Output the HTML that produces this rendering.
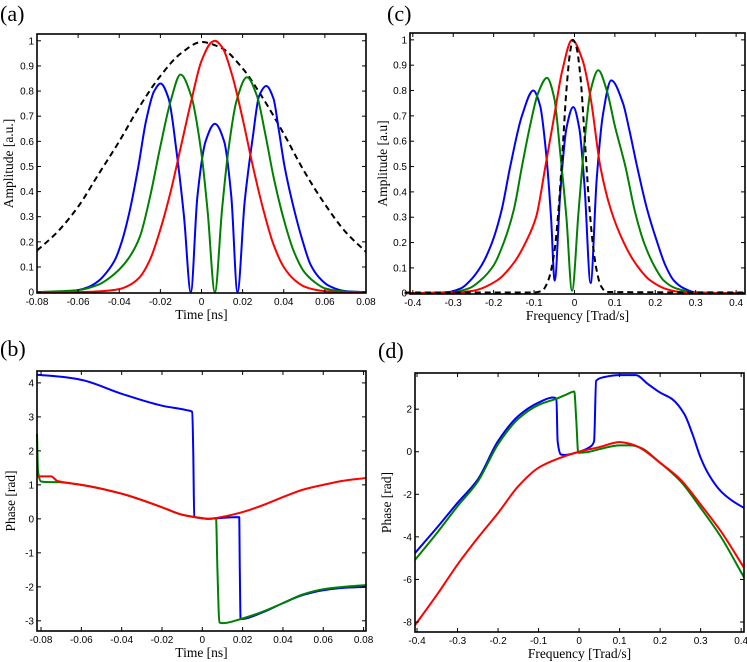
<!DOCTYPE html>
<html><head><meta charset="utf-8"><style>
html,body{margin:0;padding:0;background:#fff;}
svg{display:block;}
.tk{font-family:"Liberation Sans",sans-serif;font-size:10px;fill:#000;}
.lb{font-family:"Liberation Serif",serif;font-size:13.5px;fill:#000;}
.pl{font-family:"Liberation Serif",serif;font-size:22px;fill:#000;}
</style></head><body>
<svg id="fig" width="747" height="662" viewBox="0 0 747 662" xmlns="http://www.w3.org/2000/svg"></svg>
<script>
// ---- Panel (a): amplitude vs time ----
const aTicksX=[-0.08,-0.06,-0.04,-0.02,0,0.02,0.04,0.06,0.08];
const aTickLabelsX=["-0.08","-0.06","-0.04","-0.02","0","0.02","0.04","0.06","0.08"];
const aTicksY=[0,0.1,0.2,0.3,0.4,0.5,0.6,0.7,0.8,0.9,1];
const aTickLabelsY=["0","0.1","0.2","0.3","0.4","0.5","0.6","0.7","0.8","0.9","1"];
const aDashX=[-0.08,-0.07,-0.06,-0.05,-0.04,-0.03,-0.02,-0.01,0,0.01,0.02,0.03,0.04,0.05,0.06,0.07,0.08];
const aDashY=[0.165,0.24,0.34,0.47,0.6,0.74,0.86,0.95,0.995,0.97,0.89,0.77,0.63,0.48,0.35,0.24,0.16];
const aBlueX=[-0.08,-0.065,-0.06,-0.055,-0.05,-0.046,-0.042,-0.0388,-0.035,-0.0307,-0.027,-0.023,-0.0199,-0.016,-0.012,-0.0085,-0.0052,-0.002,0.002,0.0065,0.011,0.0145,0.0175,0.021,0.025,0.028,0.0315,0.035,0.0375,0.0404,0.045,0.0493,0.053,0.057,0.062,0.07,0.08];
const aBlueY=[0,0.003,0.008,0.02,0.045,0.08,0.13,0.2,0.32,0.5,0.68,0.8,0.83,0.77,0.55,0.3,0,0.38,0.6,0.67,0.6,0.38,0,0.36,0.62,0.78,0.82,0.77,0.65,0.5,0.33,0.2,0.11,0.06,0.025,0.004,0];
const aGreenX=[-0.08,-0.06,-0.05,-0.045,-0.04,-0.035,-0.03,-0.025,-0.02,-0.015,-0.0102,-0.005,0,0.003,0.0065,0.01,0.013,0.017,0.0221,0.027,0.031,0.035,0.04,0.045,0.05,0.055,0.06,0.07,0.08];
const aGreenY=[0,0.008,0.03,0.055,0.09,0.14,0.22,0.38,0.58,0.76,0.866,0.78,0.55,0.32,0,0.33,0.56,0.76,0.855,0.78,0.63,0.46,0.29,0.16,0.08,0.04,0.015,0.002,0];
const aRedX=[-0.08,-0.06,-0.05,-0.04,-0.035,-0.03,-0.025,-0.02,-0.015,-0.01,-0.005,0,0.005,0.0065,0.01,0.015,0.02,0.025,0.03,0.035,0.04,0.045,0.05,0.055,0.06,0.07,0.08];
const aRedY=[0,0,0.003,0.012,0.028,0.06,0.13,0.25,0.4,0.58,0.76,0.92,0.995,1,0.975,0.86,0.69,0.5,0.33,0.19,0.1,0.05,0.022,0.01,0.004,0,0];

// ---- Panel (c): amplitude vs frequency ----
const cTicksX=[-0.4,-0.3,-0.2,-0.1,0,0.1,0.2,0.3,0.4];
const cTickLabelsX=["-0.4","-0.3","-0.2","-0.1","0","0.1","0.2","0.3","0.4"];
const cTicksY=[0,0.1,0.2,0.3,0.4,0.5,0.6,0.7,0.8,0.9,1];
const cTickLabelsY=["0","0.1","0.2","0.3","0.4","0.5","0.6","0.7","0.8","0.9","1"];
const cDashX=[-0.42,-0.1,-0.08,-0.065,-0.05,-0.04,-0.03,-0.02,-0.01,-0.004,0.005,0.015,0.025,0.035,0.045,0.055,0.065,0.08,0.42];
const cDashY=[0.003,0.003,0.01,0.05,0.16,0.32,0.55,0.8,0.96,1.0,0.97,0.85,0.62,0.38,0.2,0.09,0.03,0.005,0.003];
const cBlueX=[-0.42,-0.32,-0.28,-0.258,-0.23,-0.204,-0.18,-0.159,-0.13,-0.102,-0.085,-0.07,-0.058,-0.049,-0.035,-0.02,-0.003,0.012,0.025,0.04,0.055,0.07,0.091,0.12,0.135,0.155,0.18,0.205,0.225,0.246,0.27,0.3,0.42];
const cBlueY=[0,0.003,0.02,0.05,0.11,0.2,0.33,0.5,0.7,0.8,0.74,0.55,0.3,0.05,0.4,0.65,0.735,0.65,0.42,0.04,0.45,0.7,0.84,0.75,0.65,0.5,0.33,0.2,0.11,0.05,0.02,0.003,0];
const cGreenX=[-0.42,-0.3,-0.26,-0.233,-0.2,-0.175,-0.15,-0.13,-0.11,-0.09,-0.068,-0.05,-0.035,-0.02,-0.006,0.01,0.025,0.04,0.059,0.08,0.1,0.126,0.15,0.172,0.2,0.221,0.25,0.3,0.42];
const cGreenY=[0,0.005,0.02,0.05,0.11,0.2,0.33,0.5,0.66,0.79,0.85,0.77,0.55,0.3,0.01,0.32,0.6,0.8,0.88,0.8,0.66,0.5,0.32,0.2,0.1,0.05,0.02,0.003,0];
const cRedX=[-0.42,-0.3,-0.25,-0.192,-0.15,-0.121,-0.095,-0.072,-0.05,-0.03,-0.006,0.02,0.04,0.064,0.09,0.122,0.15,0.188,0.23,0.27,0.3,0.42];
const cRedY=[0,0.002,0.01,0.05,0.12,0.2,0.3,0.5,0.7,0.88,1.0,0.92,0.77,0.5,0.33,0.2,0.12,0.05,0.015,0.003,0,0];

// ---- Panel (b): phase vs time ----
const bTicksX=[-0.08,-0.06,-0.04,-0.02,0,0.02,0.04,0.06,0.08];
const bTickLabelsX=["-0.08","-0.06","-0.04","-0.02","0","0.02","0.04","0.06","0.08"];
const bTicksY=[-3,-2,-1,0,1,2,3,4];
const bTickLabelsY=["-3","-2","-1","0","1","2","3","4"];
const bBlueX=[-0.082,-0.07,-0.06,-0.04,-0.02,-0.008,-0.005,-0.0045,-0.004,-0.002,0.003,0.01,0.0183,0.0186,0.019,0.03,0.04,0.05,0.06,0.07,0.081];
const bBlueY=[4.24,4.18,4.09,3.68,3.33,3.2,3.15,2.0,0.07,0.03,0,0.03,0.05,-1.5,-2.95,-2.75,-2.48,-2.24,-2.1,-2.03,-2.0];
const bGreenX=[-0.082,-0.0815,-0.08,-0.076,-0.072,-0.06,-0.04,-0.02,-0.01,0,0.003,0.0068,0.0075,0.0085,0.01,0.02,0.03,0.04,0.05,0.06,0.07,0.081];
const bGreenY=[2.5,1.4,1.1,1.08,1.08,1.0,0.74,0.34,0.12,0.02,0,0.02,-1.5,-3.05,-3.07,-2.93,-2.73,-2.48,-2.22,-2.07,-2.0,-1.95];
const bRedX=[-0.082,-0.075,-0.072,-0.068,-0.06,-0.04,-0.02,-0.01,0,0.003,0.01,0.02,0.03,0.04,0.05,0.06,0.07,0.081];
const bRedY=[1.25,1.25,1.12,1.07,1.0,0.74,0.34,0.12,0.02,0,0.06,0.2,0.4,0.64,0.86,1.0,1.12,1.2];

// ---- Panel (d): phase vs frequency ----
const dTicksX=[-0.4,-0.3,-0.2,-0.1,0,0.1,0.2,0.3,0.4];
const dTickLabelsX=["-0.4","-0.3","-0.2","-0.1","0","0.1","0.2","0.3","0.4"];
const dTicksY=[-8,-6,-4,-2,0,2];
const dTickLabelsY=["-8","-6","-4","-2","0","2"];
const dBlueX=[-0.405,-0.35,-0.3,-0.25,-0.2,-0.15,-0.1,-0.065,-0.056,-0.053,-0.045,-0.035,0,0.03,0.037,0.042,0.06,0.1,0.14,0.17,0.2,0.23,0.26,0.28,0.3,0.32,0.35,0.38,0.407];
const dBlueY=[-4.76,-3.55,-2.4,-1.3,0.5,1.68,2.31,2.55,2.5,0.5,-0.13,-0.15,0,0.27,0.5,3.33,3.5,3.6,3.6,3.18,2.78,2.47,1.76,0.82,-0.28,-1.07,-1.86,-2.33,-2.64];
const dGreenX=[-0.405,-0.35,-0.3,-0.25,-0.2,-0.15,-0.1,-0.055,-0.03,-0.012,-0.007,-0.002,0.02,0.05,0.1,0.13,0.15,0.2,0.25,0.3,0.35,0.407];
const dGreenY=[-5.08,-3.8,-2.56,-1.4,0.35,1.55,2.2,2.5,2.7,2.83,1.5,-0.05,-0.02,0.12,0.3,0.3,0.2,-0.52,-1.38,-2.64,-4.0,-5.9];
const dRedX=[-0.405,-0.35,-0.3,-0.25,-0.2,-0.15,-0.1,-0.05,0,0.05,0.1,0.13,0.15,0.2,0.25,0.3,0.35,0.407];
const dRedY=[-8.15,-6.7,-5.3,-4.05,-2.88,-1.62,-0.75,-0.31,0,0.22,0.45,0.35,0.19,-0.52,-1.3,-2.48,-3.74,-5.45];

const NS="http://www.w3.org/2000/svg";
const svg=document.getElementById('fig');
function mk(tag,attrs,parent){const e=document.createElementNS(NS,tag);for(const k in attrs)e.setAttribute(k,attrs[k]);(parent||svg).appendChild(e);return e;}

function smoothPath(X,Y){
  const n=X.length;if(n<2)return '';
  const d=[],m=new Array(n);
  for(let i=0;i<n-1;i++){const h=X[i+1]-X[i];d.push(h===0?0:(Y[i+1]-Y[i])/h);}
  m[0]=d[0];m[n-1]=d[n-2];
  for(let i=1;i<n-1;i++){
    if(d[i-1]*d[i]<=0)m[i]=0;
    else{const h0=X[i]-X[i-1],h1=X[i+1]-X[i];const w1=2*h1+h0,w2=h1+2*h0;m[i]=(w1+w2)/(w1/d[i-1]+w2/d[i]);}
  }
  let p='M'+X[0].toFixed(2)+' '+Y[0].toFixed(2);
  for(let i=0;i<n-1;i++){
    const h=(X[i+1]-X[i])/3;
    p+='C'+(X[i]+h).toFixed(2)+' '+(Y[i]+m[i]*h).toFixed(2)+' '+(X[i+1]-h).toFixed(2)+' '+(Y[i+1]-m[i+1]*h).toFixed(2)+' '+X[i+1].toFixed(2)+' '+Y[i+1].toFixed(2);
  }
  return p;
}

function panel(p){
  const g=mk('g',{});
  
  
  const sx=v=>p.L+(v-p.x0)/(p.x1-p.x0)*(p.R-p.L);
  const sy=v=>p.B-(v-p.y0)/(p.y1-p.y0)*(p.B-p.T);
  p.series.forEach(s=>{
    const PX=s.x.map(sx),PY=s.y.map(sy);
    const path=mk('path',{d:smoothPath(PX,PY),fill:'none',stroke:s.c,'stroke-width':2,'stroke-linejoin':'round'},g);
    if(s.dash)path.setAttribute('stroke-dasharray','6 4');
    
    
  });
  const box=mk('rect',{x:p.L,y:p.T,width:p.R-p.L,height:p.B-p.T,fill:'none',stroke:'#000','stroke-width':1.6},g);
  
  
  p.tx.forEach((v,i)=>{
    const X=sx(v);
    mk('line',{x1:X,x2:X,y1:p.B,y2:p.B-4,stroke:'#000','stroke-width':1},g);
    mk('line',{x1:X,x2:X,y1:p.T,y2:p.T+4,stroke:'#000','stroke-width':1},g);
    const t=mk('text',{x:X,y:p.B+12,'text-anchor':'middle',class:'tk'},g);
    t.textContent=p.txl[i];
    
    
  });
  p.ty.forEach((v,i)=>{
    const Y=sy(v);
    mk('line',{x1:p.L,x2:p.L+4,y1:Y,y2:Y,stroke:'#000','stroke-width':1},g);
    mk('line',{x1:p.R,x2:p.R-4,y1:Y,y2:Y,stroke:'#000','stroke-width':1},g);
    const t=mk('text',{x:p.L-3,y:Y+3.5,'text-anchor':'end',class:'tk'},g);
    t.textContent=p.tyl[i];
    
    
  });
  const xt=mk('text',{x:(p.L+p.R)/2,y:p.B+26,'text-anchor':'middle',class:'lb'},g);
  xt.textContent=p.xlab;
  
  
  const yx=p.ylx, yy=(p.T+p.B)/2;
  const yt=mk('text',{x:yx,y:yy,'text-anchor':'middle',class:'lb',transform:'rotate(-90 '+yx+' '+yy+')'},g);
  yt.textContent=p.ylab;
  
  
  const pl=mk('text',{x:p.plx,y:p.ply,class:'pl'},g);
  pl.textContent=p.letter;
  
  
}

panel({id:'panel-a',L:37,R:366,T:34,B:293,x0:-0.08,x1:0.08,y0:-0.0035,y1:1.027,
  tx:aTicksX,txl:aTickLabelsX,ty:aTicksY,tyl:aTickLabelsY,xlab:'Time [ns]',ylab:'Amplitude [a.u.]',ylx:13,letter:'(a)',plx:0,ply:21,
  series:[{name:'dashed-envelope',x:aDashX,y:aDashY,c:'#000',dash:1},{name:'blue-series',x:aBlueX,y:aBlueY,c:'#0000ff'},{name:'green-series',x:aGreenX,y:aGreenY,c:'#008000'},{name:'red-series',x:aRedX,y:aRedY,c:'#ff0000'}]});
panel({id:'panel-c',L:410,R:745,T:33,B:294,x0:-0.407,x1:0.422,y0:-0.003,y1:1.027,
  tx:cTicksX,txl:cTickLabelsX,ty:cTicksY,tyl:cTickLabelsY,xlab:'Frequency [Trad/s]',ylab:'Amplitude [a.u]',ylx:387,letter:'(c)',plx:387,ply:21,
  series:[{name:'blue-series',x:cBlueX,y:cBlueY,c:'#0000ff'},{name:'green-series',x:cGreenX,y:cGreenY,c:'#008000'},{name:'red-series',x:cRedX,y:cRedY,c:'#ff0000'},{name:'dashed-spectrum',x:cDashX,y:cDashY,c:'#000',dash:1}]});
panel({id:'panel-b',L:37,R:366,T:371,B:631,x0:-0.082,x1:0.0812,y0:-3.3,y1:4.35,
  tx:bTicksX,txl:bTickLabelsX,ty:bTicksY,tyl:bTickLabelsY,xlab:'Time [ns]',ylab:'Phase [rad]',ylx:15,letter:'(b)',plx:0,ply:356,
  series:[{name:'blue-series',x:bBlueX,y:bBlueY,c:'#0000ff'},{name:'green-series',x:bGreenX,y:bGreenY,c:'#008000'},{name:'red-series',x:bRedX,y:bRedY,c:'#ff0000'}]});
panel({id:'panel-d',L:415,R:744,T:373,B:632,x0:-0.405,x1:0.407,y0:-8.47,y1:3.7,
  tx:dTicksX,txl:dTickLabelsX,ty:dTicksY,tyl:dTickLabelsY,xlab:'Frequency [Trad/s]',ylab:'Phase [rad]',ylx:391,letter:'(d)',plx:378,ply:358,
  series:[{name:'blue-series',x:dBlueX,y:dBlueY,c:'#0000ff'},{name:'green-series',x:dGreenX,y:dGreenY,c:'#008000'},{name:'red-series',x:dRedX,y:dRedY,c:'#ff0000'}]});
</script>
</body></html>
